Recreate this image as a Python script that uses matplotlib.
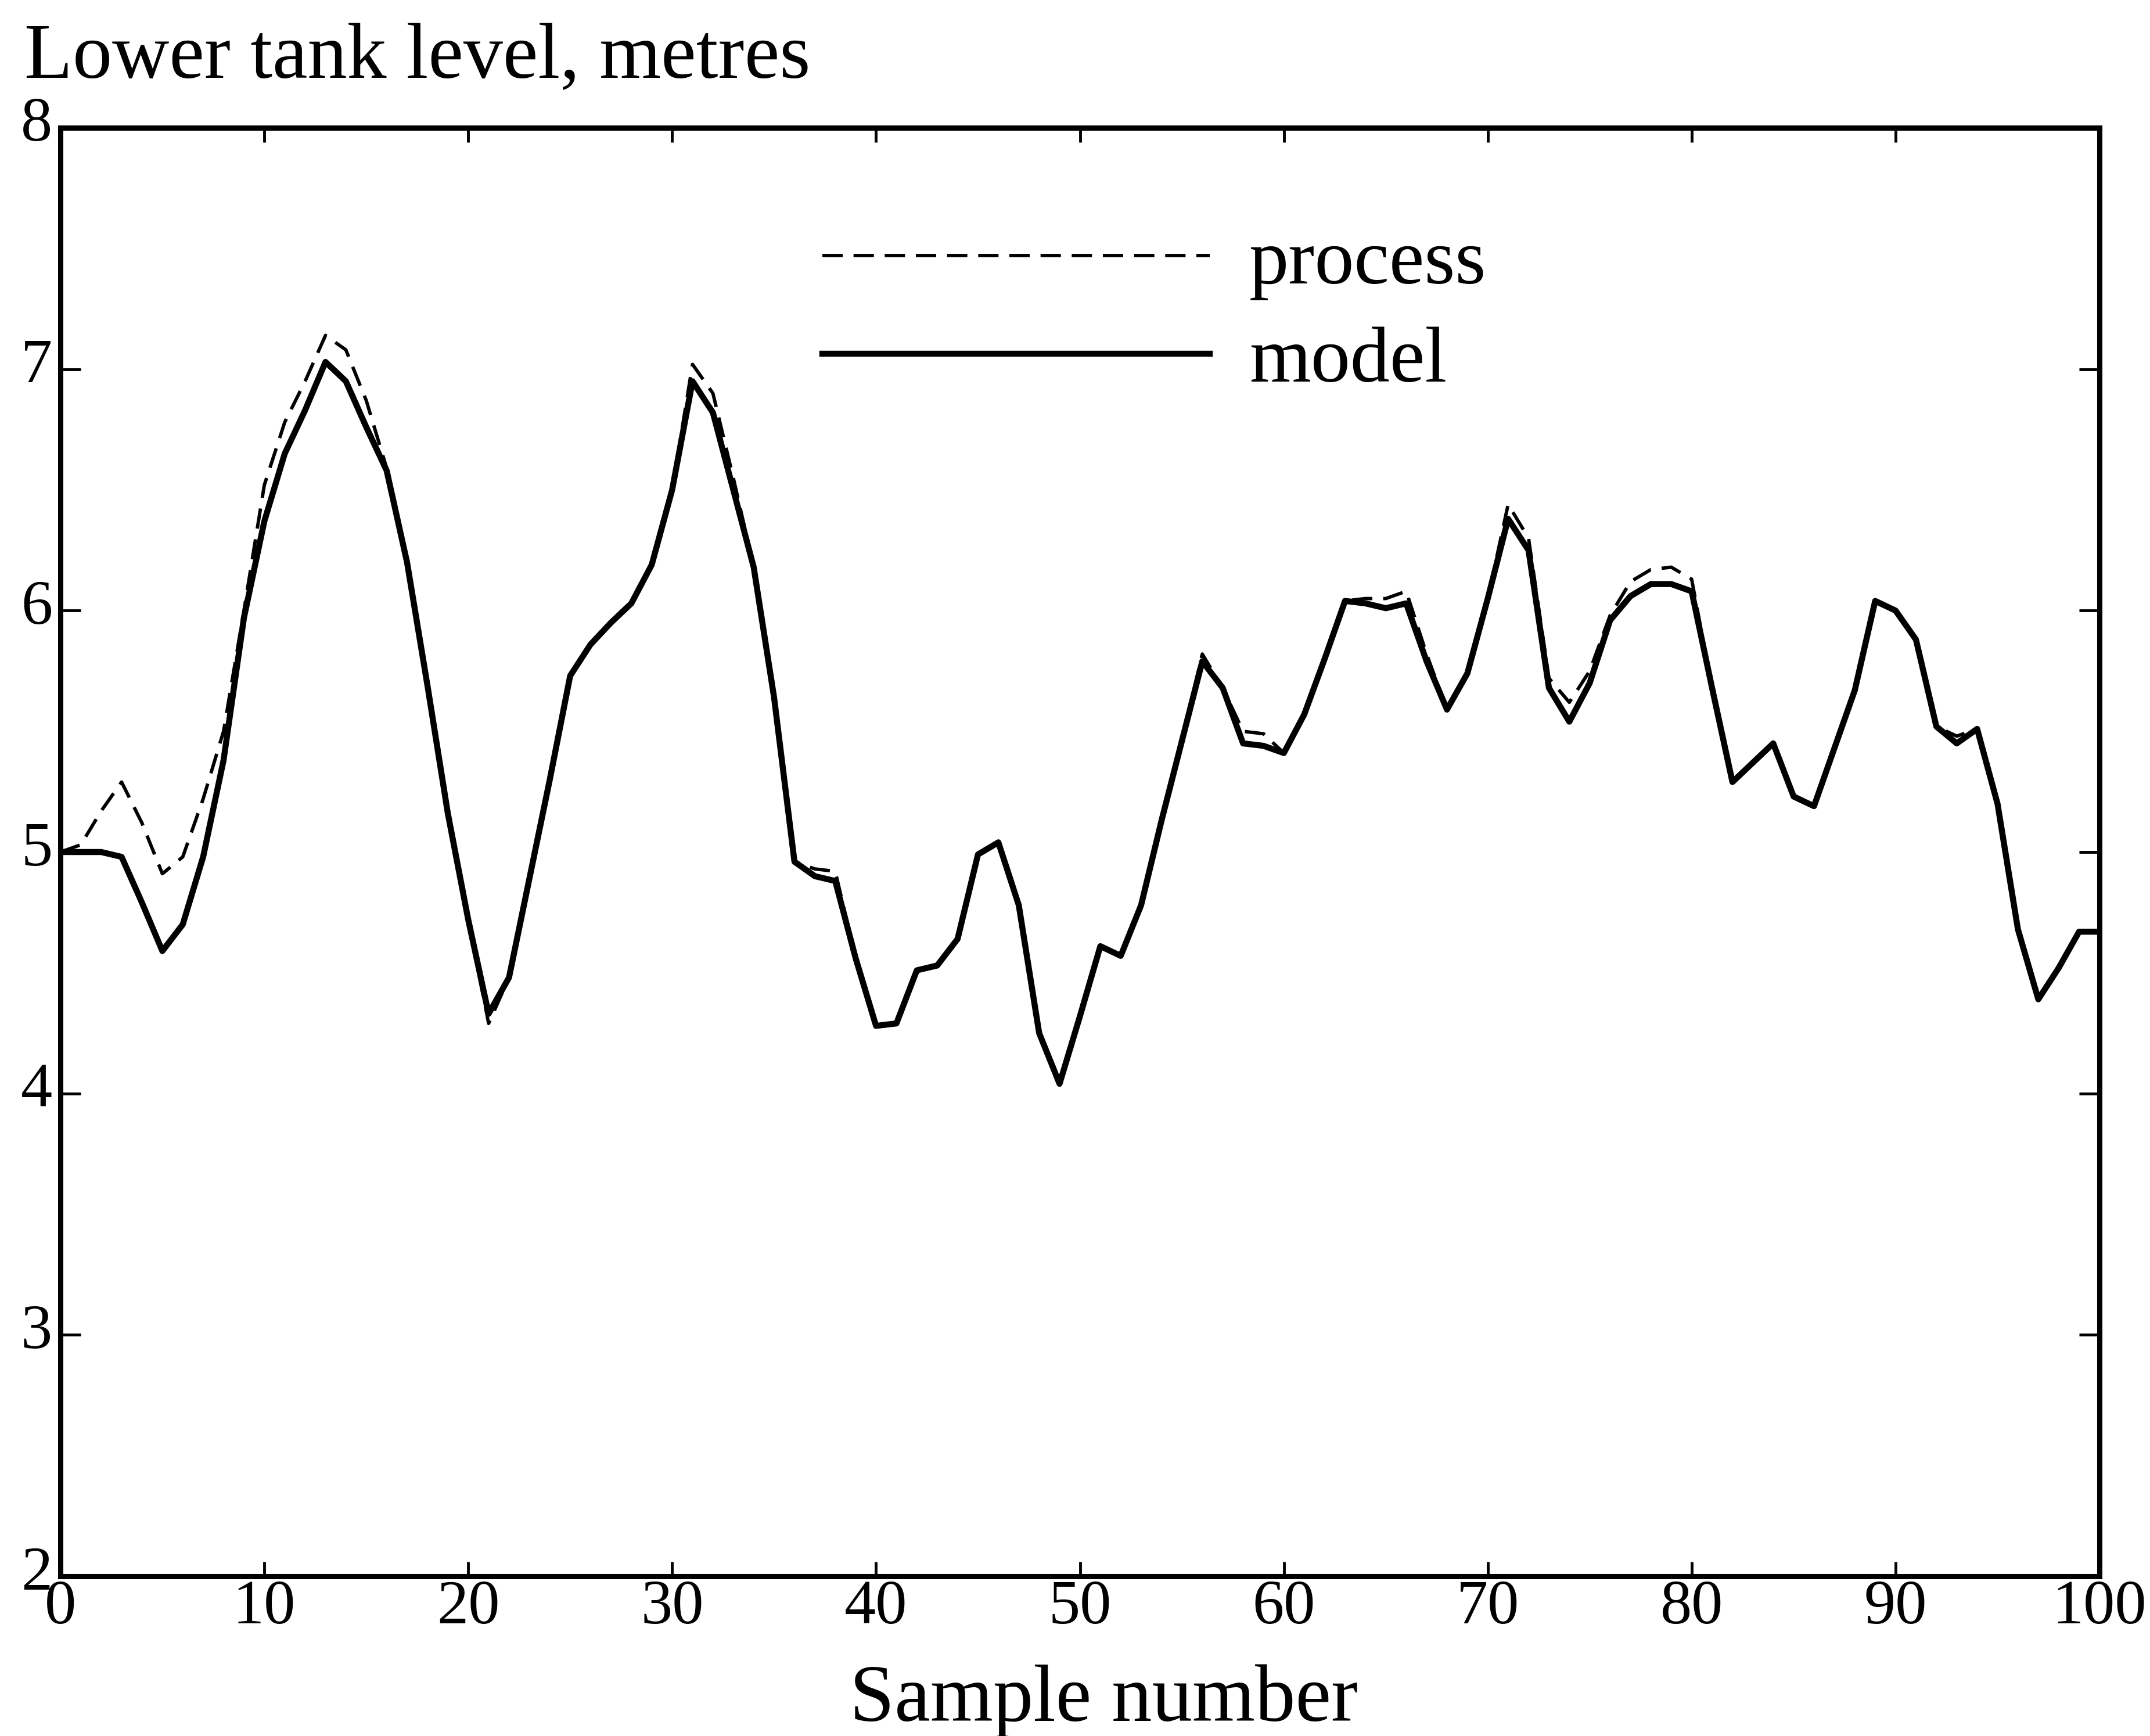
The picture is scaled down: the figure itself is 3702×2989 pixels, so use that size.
import matplotlib
matplotlib.use("Agg")
import matplotlib.pyplot as plt
import matplotlib.transforms as mtransforms

# lower tank level, simulated model vs. measured process
sample = list(range(0, 101))

model = [5.00, 5.00, 5.00, 4.98, 4.79, 4.59, 4.70, 4.98, 5.38, 5.97,
         6.37, 6.65, 6.83, 7.03, 6.95, 6.76, 6.58, 6.20, 5.69, 5.16,
         4.72, 4.33, 4.48, 4.89, 5.30, 5.73, 5.86, 5.95, 6.03, 6.19,
         6.50, 6.95, 6.82, 6.50, 6.18, 5.64, 4.96, 4.90, 4.88, 4.56,
         4.28, 4.29, 4.51, 4.53, 4.64, 4.99, 5.04, 4.78, 4.25, 4.04,
         4.32, 4.61, 4.57, 4.78, 5.13, 5.46, 5.79, 5.68, 5.45, 5.44,
         5.41, 5.57, 5.80, 6.04, 6.03, 6.01, 6.03, 5.79, 5.59, 5.74,
         6.05, 6.38, 6.25, 5.68, 5.54, 5.70, 5.96, 6.06, 6.11, 6.11,
         6.08, 5.68, 5.29, 5.37, 5.45, 5.23, 5.19, 5.43, 5.67, 6.04,
         6.00, 5.88, 5.52, 5.45, 5.51, 5.20, 4.68, 4.39, 4.52, 4.67,
         4.67]

process = [5.00, 5.03, 5.17, 5.29, 5.12, 4.91, 4.98, 5.22, 5.50, 6.00,
           6.52, 6.78, 6.95, 7.14, 7.08, 6.87, 6.59, 6.20, 5.69, 5.16,
           4.72, 4.29, 4.48, 4.89, 5.30, 5.73, 5.86, 5.95, 6.03, 6.19,
           6.50, 7.02, 6.90, 6.55, 6.18, 5.64, 4.96, 4.93, 4.92, 4.56,
           4.28, 4.29, 4.51, 4.53, 4.64, 4.99, 5.04, 4.78, 4.25, 4.04,
           4.32, 4.61, 4.57, 4.78, 5.13, 5.46, 5.82, 5.68, 5.50, 5.49,
           5.41, 5.57, 5.80, 6.04, 6.05, 6.05, 6.08, 5.82, 5.59, 5.74,
           6.05, 6.44, 6.30, 5.72, 5.62, 5.75, 5.98, 6.12, 6.17, 6.18,
           6.13, 5.68, 5.29, 5.37, 5.45, 5.23, 5.19, 5.43, 5.67, 6.04,
           6.00, 5.88, 5.52, 5.48, 5.51, 5.20, 4.68, 4.39, 4.52, 4.67,
           4.67]

xticks = list(range(0, 101, 10))
yticks = [2, 3, 4, 5, 6, 7, 8]

plt.rcParams['font.family'] = ['Liberation Serif', 'DejaVu Serif']

fig = plt.figure(figsize=(37.02, 29.89), dpi=100)
ax = fig.add_axes([0.0281, 0.092, 0.9484, 0.8344])

ax.plot(sample, process, color='black', lw=4.2, dashes=(6.0, 3.2), label='process')
ax.plot(sample, model, color='black', lw=7.5, label='model')

ax.set_xlim(0, 100)
ax.set_ylim(2, 8)
ax.set_xticks(xticks)
ax.set_yticks(yticks)

for s in ax.spines.values():
    s.set_linewidth(6.5)

ax.tick_params(axis='both', direction='in', top=True, right=True,
               width=3.5, labelsize=78)
ax.tick_params(axis='x', length=18, pad=4)
ax.tick_params(axis='y', length=25, pad=10)

# numbers on the left sit a little high
shift = mtransforms.ScaledTranslation(0, 0.15, fig.dpi_scale_trans)
for lab in ax.get_yticklabels():
    lab.set_transform(lab.get_transform() + shift)

fig.text(0.0113, 0.9552, 'Lower tank level, metres', fontsize=98,
         ha='left', va='baseline')
fig.text(0.5133, 0.0087, 'Sample number', fontsize=100,
         ha='center', va='baseline')

ax.legend(loc='upper left', bbox_to_anchor=(0.3825, 0.8687),
          bbox_transform=fig.transFigure, frameon=False, fontsize=98,
          handlelength=4.9, handletextpad=0.5, labelspacing=0.33,
          borderpad=0, borderaxespad=0)

fig.savefig('out.png', dpi=100)
